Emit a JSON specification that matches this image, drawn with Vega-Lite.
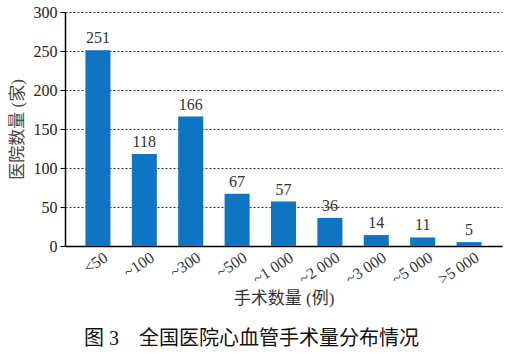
{
  "$schema": "https://vega.github.io/schema/vega-lite/v6.json",
  "width": 437,
  "height": 234,
  "autosize": "none",
  "padding": {"left": 65, "top": 12, "right": 3, "bottom": 114},
  "background": "white",
  "config": {
    "view": {"stroke": null},
    "font": "Liberation Serif, Noto Sans CJK SC"
  },
  "title": {
    "text": "图 3　全国医院心血管手术量分布情况",
    "orient": "bottom",
    "anchor": "middle",
    "fontSize": 20,
    "fontWeight": "normal",
    "color": "#111",
    "font": "Liberation Serif, Noto Sans CJK SC",
    "offset": 22,
    "dx": -32
  },
  "data": {
    "values": [
      {"range": "<50", "count": 251},
      {"range": "~100", "count": 118},
      {"range": "~300", "count": 166},
      {"range": "~500", "count": 67},
      {"range": "~1 000", "count": 57},
      {"range": "~2 000", "count": 36},
      {"range": "~3 000", "count": 14},
      {"range": "~5 000", "count": 11},
      {"range": ">5 000", "count": 5}
    ]
  },
  "encoding": {
    "x": {
      "field": "range",
      "type": "nominal",
      "sort": null,
      "scale": {"paddingInner": 0.46, "paddingOuter": 0.44},
      "axis": {
        "title": "手术数量 (例)",
        "titleFontSize": 17,
        "titleFontWeight": "normal",
        "titleColor": "#333",
        "titlePadding": 4,
        "labelAngle": -33,
        "labelAlign": "right",
        "labelBaseline": "top",
        "labelFontSize": 16,
        "labelColor": "#333",
        "labelPadding": 3,
        "labelOffset": 4,
        "ticks": false,
        "domainColor": "#000",
        "domainWidth": 1.5
      }
    },
    "y": {
      "field": "count",
      "type": "quantitative",
      "scale": {"domain": [0, 300], "nice": false},
      "axis": {
        "title": "医院数量 (家)",
        "titleFontSize": 17,
        "titleFontWeight": "normal",
        "titleColor": "#444",
        "titlePadding": 7,
        "values": [0, 50, 100, 150, 200, 250, 300],
        "labelFontSize": 16,
        "labelColor": "#222",
        "labelPadding": 3,
        "tickSize": 5,
        "tickColor": "#000",
        "domainColor": "#000",
        "domainWidth": 1.5,
        "grid": true,
        "gridDash": [2, 2],
        "gridColor": "#333",
        "gridWidth": 1
      }
    }
  },
  "layer": [
    {"mark": {"type": "bar", "color": "#0f75c3"}},
    {
      "mark": {"type": "text", "dy": -12, "fontSize": 16, "color": "#333", "font": "Liberation Serif"},
      "encoding": {"text": {"field": "count", "type": "quantitative"}}
    }
  ]
}
